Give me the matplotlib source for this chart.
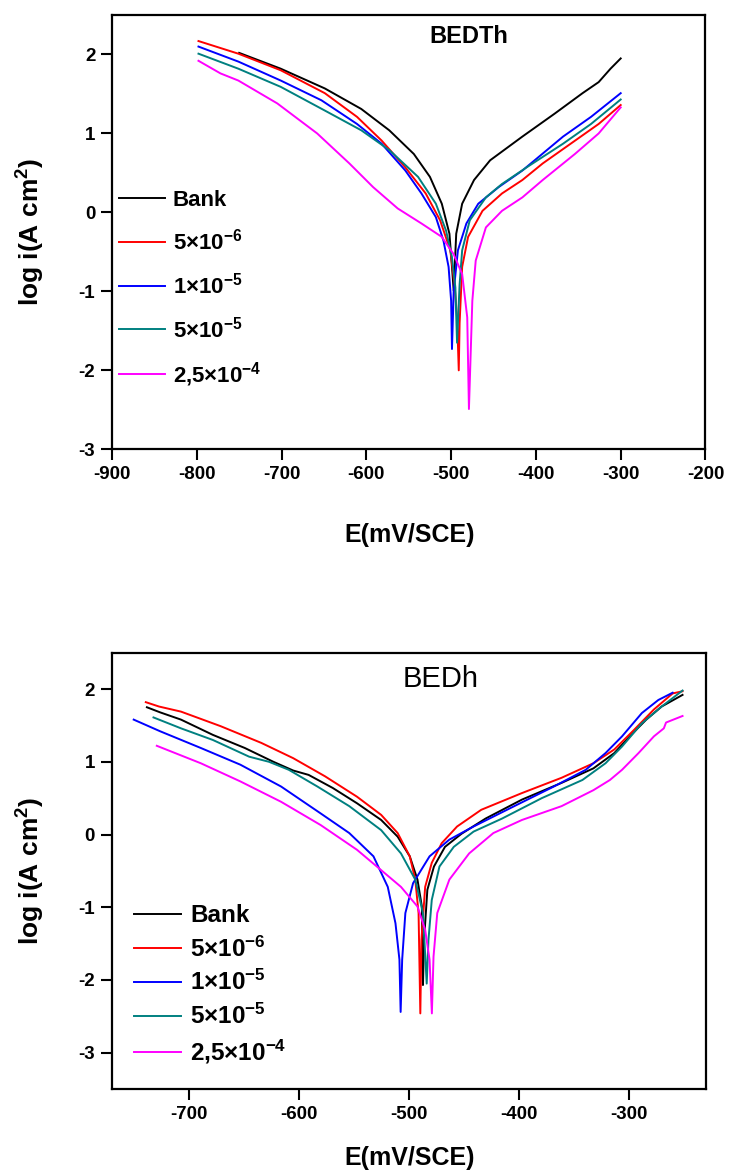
import matplotlib
matplotlib.use('Agg')
import matplotlib.pyplot as plt

plt.rcParams['font.family'] = ['Liberation Sans', 'DejaVu Sans']
plt.rcParams['font.weight'] = 'bold'
plt.rcParams['axes.unicode_minus'] = False
plt.rcParams['mathtext.fontset'] = 'custom'
plt.rcParams['mathtext.rm'] = 'Liberation Sans:bold'
plt.rcParams['mathtext.bf'] = 'Liberation Sans:bold'
plt.rcParams['mathtext.default'] = 'rm'

# legend labels and colours, same for both panels
labels = ['Bank', r'5$\times$10$^{-6}$', r'1$\times$10$^{-5}$', r'5$\times$10$^{-5}$', r'2,5$\times$10$^{-4}$']
colors = ['black', '#FF0000', '#0000FF', '#008080', '#FF00FF']

# ---- BEDTh (top panel) ----
top_bank_E = [-750, -701, -649, -606, -573, -544, -525, -511, -502, -499, -497, -494, -487, -473, -454, -416, -378, -345, -326, -312, -300]
top_bank_i = [2.02, 1.82, 1.57, 1.31, 1.04, 0.74, 0.45, 0.11, -0.27, -0.69, -0.99, -0.27, 0.11, 0.41, 0.66, 0.96, 1.25, 1.51, 1.65, 1.82, 1.95]

top_c1_E = [-798, -751, -701, -649, -611, -582, -554, -530, -513, -501, -496, -493, -491, -490, -487, -480, -463, -440, -416, -392, -359, -326, -300]
top_c1_i = [2.17, 2.01, 1.80, 1.51, 1.21, 0.91, 0.57, 0.24, -0.10, -0.48, -0.91, -1.33, -2.0, -1.4, -0.69, -0.31, 0.02, 0.24, 0.41, 0.62, 0.87, 1.12, 1.36]

top_c2_E = [-798, -751, -701, -653, -611, -582, -554, -535, -518, -509, -503, -500, -499, -497, -492, -482, -468, -444, -416, -368, -335, -300]
top_c2_i = [2.10, 1.91, 1.67, 1.42, 1.12, 0.87, 0.53, 0.24, -0.06, -0.36, -0.69, -1.12, -1.73, -1.0, -0.48, -0.14, 0.11, 0.32, 0.53, 0.96, 1.21, 1.51]

top_c3_E = [-798, -751, -701, -649, -606, -573, -539, -518, -506, -499, -495, -493, -490, -487, -478, -459, -440, -411, -368, -335, -300]
top_c3_i = [2.01, 1.82, 1.59, 1.29, 1.04, 0.79, 0.45, 0.11, -0.23, -0.57, -0.95, -1.65, -0.91, -0.48, -0.10, 0.19, 0.36, 0.57, 0.87, 1.12, 1.43]

top_c4_E = [-798, -772, -751, -705, -658, -620, -592, -563, -535, -511, -497, -487, -481, -479, -475, -471, -459, -440, -416, -392, -354, -326, -300]
top_c4_i = [1.92, 1.76, 1.67, 1.38, 1.00, 0.62, 0.32, 0.05, -0.14, -0.31, -0.53, -0.78, -1.33, -2.49, -1.12, -0.61, -0.19, 0.02, 0.19, 0.41, 0.74, 1.00, 1.33]

# ---- BEDh (bottom panel) ----
bot_bank_E = [-738, -726, -707, -678, -649, -623, -605, -591, -569, -547, -525, -510, -499, -492, -488, -487, -486, -483, -477, -467, -452, -430, -397, -361, -332, -313, -299, -284, -270, -251]
bot_bank_i = [1.75, 1.68, 1.58, 1.37, 1.19, 1.00, 0.88, 0.82, 0.64, 0.43, 0.20, -0.03, -0.30, -0.62, -0.99, -2.07, -1.45, -0.76, -0.44, -0.17, 0.01, 0.22, 0.48, 0.71, 0.91, 1.12, 1.35, 1.58, 1.76, 1.92]

bot_c1_E = [-739, -727, -707, -671, -634, -605, -576, -547, -525, -510, -499, -494, -491, -489.4, -488.4, -485, -479, -470, -456, -434, -397, -361, -332, -313, -295, -277, -260, -251]
bot_c1_i = [1.82, 1.76, 1.69, 1.49, 1.26, 1.05, 0.80, 0.52, 0.27, 0.02, -0.30, -0.62, -1.08, -2.46, -1.45, -0.72, -0.39, -0.12, 0.11, 0.34, 0.57, 0.78, 0.98, 1.17, 1.44, 1.72, 1.94, 1.97]

bot_c2_E = [-750, -726, -689, -653, -616, -580, -554, -532, -519, -512, -508.4, -507.3, -505.9, -503, -496, -481, -463, -441, -404, -368, -339, -321, -306, -288, -273, -260]
bot_c2_i = [1.58, 1.42, 1.19, 0.96, 0.66, 0.29, 0.02, -0.30, -0.72, -1.22, -1.72, -2.44, -1.72, -1.08, -0.67, -0.30, -0.07, 0.11, 0.39, 0.66, 0.89, 1.12, 1.35, 1.67, 1.85, 1.95]

bot_c3_E = [-732, -707, -678, -645, -627, -609, -583, -554, -525, -507, -494, -487, -483.6, -482, -479, -472, -459, -441, -415, -379, -342, -321, -306, -288, -270, -251]
bot_c3_i = [1.61, 1.46, 1.30, 1.07, 1.00, 0.89, 0.66, 0.39, 0.06, -0.26, -0.62, -1.08, -2.05, -1.45, -0.90, -0.44, -0.17, 0.04, 0.22, 0.50, 0.75, 0.98, 1.21, 1.53, 1.76, 1.98]

bot_c4_E = [-729, -689, -653, -616, -580, -547, -525, -507, -492, -485, -481, -478.9, -477.4, -474, -463, -445, -423, -397, -361, -332, -317, -306, -291, -277, -268, -266, -251]
bot_c4_i = [1.22, 0.98, 0.73, 0.45, 0.13, -0.21, -0.49, -0.72, -0.99, -1.31, -1.72, -2.46, -1.68, -1.08, -0.62, -0.26, 0.02, 0.20, 0.39, 0.61, 0.75, 0.89, 1.12, 1.35, 1.46, 1.54, 1.63]

top_series = [(top_bank_E, top_bank_i), (top_c1_E, top_c1_i), (top_c2_E, top_c2_i), (top_c3_E, top_c3_i), (top_c4_E, top_c4_i)]
bot_series = [(bot_bank_E, bot_bank_i), (bot_c1_E, bot_c1_i), (bot_c2_E, bot_c2_i), (bot_c3_E, bot_c3_i), (bot_c4_E, bot_c4_i)]


def style_axes(ax):
    for sp in ax.spines.values():
        sp.set_linewidth(1.6)
    ax.tick_params(direction='out', length=8, width=1.5, labelsize=13.5, pad=4)
    for lab in ax.get_xticklabels() + ax.get_yticklabels():
        lab.set_fontweight('bold')


fig = plt.figure(figsize=(7.31, 11.71), dpi=100)

ax1 = fig.add_axes([0.1532, 0.6163, 0.8119, 0.3709])
for (E, li), lab, c in zip(top_series, labels, colors):
    ax1.plot(E, li, color=c, lw=1.4, label=lab)
ax1.set_xlim(-900, -200)
ax1.set_ylim(-3, 2.5)
ax1.set_xticks([-900, -800, -700, -600, -500, -400, -300, -200])
ax1.set_yticks([-3, -2, -1, 0, 1, 2])
style_axes(ax1)
ax1.text(0.602, 0.95, 'BEDTh', transform=ax1.transAxes, ha='center', va='center',
         fontsize=17, fontweight='bold')
ax1.legend(loc='upper left', bbox_to_anchor=(0.012, 0.597), frameon=False, fontsize=16,
           handlelength=2.05, handletextpad=0.36, labelspacing=0.8, borderpad=0, borderaxespad=0)

ax2 = fig.add_axes([0.1528, 0.0700, 0.8125, 0.3726])
for (E, li), lab, c in zip(bot_series, labels, colors):
    ax2.plot(E, li, color=c, lw=1.4, label=lab)
ax2.set_xlim(-770, -230)
ax2.set_ylim(-3.5, 2.5)
ax2.set_xticks([-700, -600, -500, -400, -300])
ax2.set_yticks([-3, -2, -1, 0, 1, 2])
style_axes(ax2)
ax2.text(0.553, 0.94, 'BEDh', transform=ax2.transAxes, ha='center', va='center',
         fontsize=21, fontweight='normal')
ax2.legend(loc='upper left', bbox_to_anchor=(0.038, 0.423), frameon=False, fontsize=17.5,
           handlelength=1.93, handletextpad=0.37, labelspacing=0.36, borderpad=0, borderaxespad=0)

# axis titles
fig.text(0.56, 1 - 535 / 1171, 'E(mV/SCE)', ha='center', va='center', fontsize=18, fontweight='bold')
fig.text(0.56, 1 - 1158 / 1171, 'E(mV/SCE)', ha='center', va='center', fontsize=18, fontweight='bold')
fig.text(0.042, 1 - 232 / 1171, 'log i(A cm$^2$)', ha='center', va='center', rotation=90,
         fontsize=19, fontweight='bold')
fig.text(0.042, 1 - 871 / 1171, 'log i(A cm$^2$)', ha='center', va='center', rotation=90,
         fontsize=19, fontweight='bold')

fig.savefig('out.png', dpi=100)
